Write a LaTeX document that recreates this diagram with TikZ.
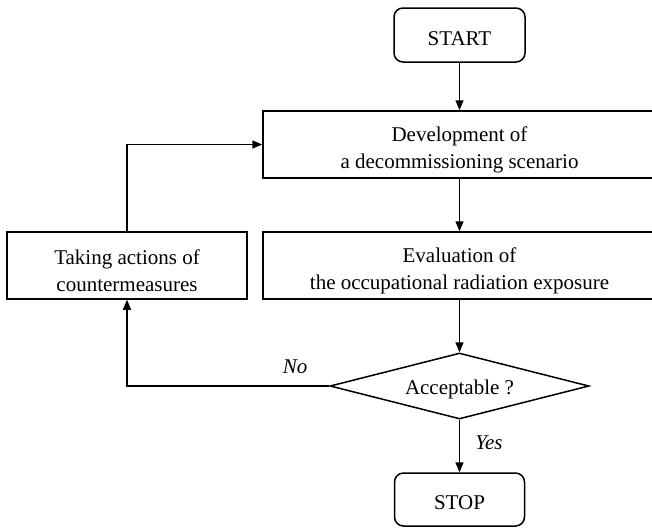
\documentclass[tikz,border=0pt]{standalone}
\usepackage{fontspec}
\setmainfont{Liberation Serif}
\usetikzlibrary{shapes.geometric,arrows.meta}
\newcommand{\upone}{\rule{0pt}{21pt}}
\newcommand{\uptwo}{\rule{0pt}{26pt}}
\begin{document}
\begin{tikzpicture}[x=1pt,y=-1pt,
  every node/.style={font=\fontsize{21}{27}\selectfont, align=center, inner sep=0pt},
  procbox/.style={draw, line width=1.5pt, minimum height=67pt},
  termbox/.style={draw, line width=1.5pt, rounded corners=9pt, minimum width=131pt, minimum height=54pt},
  decbox/.style={draw, diamond, line width=1.5pt, minimum width=259pt, minimum height=66pt, aspect=3.9},
  conn/.style={line width=1.5pt, -{Triangle[length=10pt,width=8pt]}},
  lbl/.style={font=\fontsize{21}{26}\selectfont\itshape}]
\clip (0,0) rectangle (652,528);
\node[termbox] (start) at (459.5,35) {\upone START};
\node[procbox, minimum width=393pt] (dev) at (459.5,144.5) {\uptwo Development of\\a decommissioning scenario};
\node[procbox, minimum width=393pt] (eval) at (459.5,265.5) {\uptwo Evaluation of\\the occupational radiation exposure};
\node[procbox, minimum width=240pt] (take) at (127,265.5) {\uptwo Taking actions of\\countermeasures};
\node[decbox] (dec) at (459.5,386) {\upone Acceptable ?};
\node[termbox, minimum width=130pt, minimum height=53pt] (stop) at (459.5,499.5) {\upone STOP};
\draw[conn] (start) -- (dev);
\draw[conn] (dev) -- (eval);
\draw[conn] (eval) -- (dec);
\draw[conn] (dec) -- (stop);
\draw[conn] (dec.west) -| (take.south);
\draw[conn] (take.north) |- (dev.west);
\node[lbl] (no) at (295,367) {No};
\node[lbl] (yes) at (489,443) {Yes};
\end{tikzpicture}
\end{document}
